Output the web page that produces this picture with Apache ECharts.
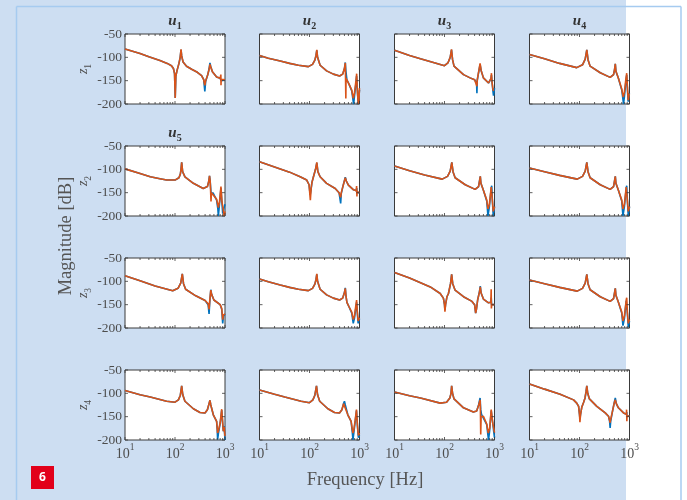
<!DOCTYPE html>
<html><head><meta charset="utf-8">
<script src="https://cdn.jsdelivr.net/npm/echarts@6/dist/echarts.min.js"></script>
<style>html,body{margin:0;padding:0;background:#fff}#c{width:687px;height:500px}</style>
</head><body><div id="c"></div>
<script>
// ---------- data ----------
const inputNames = ['1','2','3','4'];
const outputNames = ['1','2','3','4'];
const yTicks = [-50,-100,-150,-200];
const xMajorTicks = [10,100,1000];
const xMinorTicks = [20,30,40,50,60,70,80,90,200,300,400,500,600,700,800,900];

const z1u1_b = [[10,-82],[20,-92],[30,-99],[50,-107],[70,-113],[85,-118],[93,-124],[98,-135],[101,-187],[104,-140],[110,-128],[120,-113],[127,-100],[132,-84],[136,-97],[145,-110],[170,-119],[220,-126],[280,-132],[340,-139],[375,-148],[395,-173],[410,-152],[450,-138],[480,-125],[500,-112],[520,-120],[560,-131],[680,-142],[800,-145],[825,-142],[835,-150],[860,-146],[1000,-148]];
const z1u1_o = [[10,-82],[20,-92],[30,-99],[50,-107],[70,-113],[85,-118],[93,-124],[98,-135],[101,-187],[104,-140],[110,-128],[120,-113],[127,-100],[132,-83],[136,-97],[145,-110],[170,-119],[220,-126],[280,-132],[340,-139],[375,-148],[395,-160],[410,-150],[450,-138],[480,-126],[500,-115],[520,-121],[560,-131],[680,-142],[800,-145],[820,-144],[826,-137],[832,-160],[840,-147],[1000,-148]];

const z1u2_b = [[10,-96],[15,-102],[26,-108],[40,-113],[60,-117],[95,-120],[115,-115],[128,-106],[135,-96],[140,-85],[145,-100],[163,-117],[220,-129],[300,-136],[400,-140],[460,-136],[500,-124],[520,-111],[535,-130],[560,-148],[620,-158],[700,-172],[750,-195],[765,-200],[790,-185],[850,-155],[875,-140],[900,-165],[940,-200],[970,-185],[1000,-170]];
const z1u2_o = [[10,-96],[15,-102],[26,-108],[40,-113],[60,-117],[95,-120],[115,-115],[128,-106],[135,-96],[140,-84],[145,-100],[163,-117],[220,-129],[300,-136],[400,-140],[460,-136],[500,-124],[520,-112],[527,-150],[533,-188],[538,-145],[560,-148],[620,-158],[700,-170],[750,-188],[790,-178],[850,-150],[878,-135],[905,-170],[945,-200],[975,-190],[1000,-166]];

const z1u3_b = [[10,-85],[20,-96],[33,-103],[60,-111],[100,-118],[117,-112],[130,-100],[138,-84],[145,-105],[155,-119],[240,-137],[325,-144],[400,-148],[438,-155],[445,-177],[452,-150],[480,-133],[515,-115],[540,-128],[600,-144],[760,-155],[850,-146],[870,-138],[890,-152],[930,-172],[955,-182],[1000,-166]];
const z1u3_o = [[10,-85],[20,-96],[33,-103],[60,-111],[100,-118],[117,-112],[130,-100],[138,-83],[145,-105],[155,-119],[240,-137],[325,-144],[400,-148],[438,-152],[445,-162],[452,-148],[480,-132],[515,-113],[540,-128],[600,-144],[760,-155],[850,-145],[870,-134],[890,-152],[930,-168],[960,-172],[1000,-166]];

const z1u4_b = [[10,-94],[20,-103],[40,-113],[88,-122],[115,-116],[130,-104],[140,-84],[148,-105],[163,-119],[260,-133],[410,-143],[480,-137],[505,-125],[520,-114],[535,-130],[600,-145],[700,-170],[740,-190],[760,-200],[790,-185],[850,-150],[880,-138],[910,-170],[940,-195],[970,-180],[1000,-177]];
const z1u4_o = [[10,-94],[20,-103],[40,-113],[88,-122],[115,-116],[130,-104],[140,-84],[148,-105],[163,-119],[260,-133],[410,-143],[480,-137],[505,-125],[520,-114],[535,-130],[600,-145],[700,-168],[750,-185],[790,-175],[850,-145],[880,-134],[910,-165],[945,-192],[975,-180],[1000,-178]];

const z2u1_b = [[10,-99],[20,-109],[32,-116],[50,-120],[68,-123],[100,-123],[120,-118],[128,-110],[132,-100],[136,-85],[142,-105],[158,-116],[233,-130],[367,-141],[445,-137],[475,-125],[490,-114],[505,-125],[525,-150],[580,-151],[680,-166],[720,-185],[736,-200],[760,-185],[800,-160],[830,-140],[860,-165],[900,-195],[940,-185],[1000,-175]];
const z2u1_o = [[10,-99],[20,-109],[32,-116],[50,-120],[68,-123],[100,-123],[120,-118],[128,-110],[132,-100],[136,-85],[142,-105],[158,-116],[233,-130],[367,-141],[445,-137],[475,-125],[490,-114],[505,-125],[515,-145],[525,-169],[535,-150],[580,-151],[680,-164],[736,-182],[780,-168],[830,-137],[870,-170],[920,-185],[960,-200],[1000,-190]];

const z2u2_b = [[10,-84],[20,-95],[40,-106],[65,-116],[88,-123],[98,-133],[103,-155],[107,-145],[112,-128],[120,-116],[132,-100],[140,-86],[147,-105],[163,-116],[220,-130],[327,-141],[390,-150],[420,-173],[432,-152],[470,-135],[520,-117],[545,-125],[600,-134],[760,-144],[860,-146],[880,-140],[895,-150],[1000,-150]];
const z2u2_o = [[10,-84],[20,-95],[40,-106],[65,-116],[88,-123],[98,-133],[104,-166],[108,-140],[112,-128],[120,-116],[132,-100],[140,-85],[147,-105],[163,-116],[220,-130],[327,-141],[390,-150],[420,-160],[432,-150],[470,-135],[520,-118],[545,-125],[600,-134],[760,-144],[860,-146],[875,-136],[888,-158],[900,-148],[1000,-150]];

const z2u3_b = [[10,-93],[20,-103],[40,-112],[90,-121],[115,-115],[130,-104],[140,-85],[148,-105],[163,-118],[260,-133],[410,-143],[480,-137],[520,-115],[535,-130],[600,-145],[700,-168],[740,-200],[790,-180],[860,-140],[880,-135],[910,-170],[945,-200],[1000,-180]];
const z2u3_o = [[10,-93],[20,-103],[40,-112],[90,-121],[115,-115],[130,-104],[140,-85],[148,-105],[163,-118],[260,-133],[410,-143],[480,-137],[520,-115],[535,-130],[600,-145],[700,-166],[740,-185],[790,-175],[860,-138],[880,-134],[910,-168],[945,-190],[1000,-180]];

const z2u4_b = [[10,-97],[20,-105],[40,-113],[90,-121],[115,-115],[130,-104],[140,-85],[148,-105],[163,-118],[260,-133],[410,-143],[480,-137],[520,-115],[535,-130],[600,-145],[700,-168],[740,-200],[790,-180],[860,-140],[880,-135],[910,-170],[945,-200],[1000,-180]];
const z2u4_o = [[10,-97],[20,-105],[40,-113],[90,-121],[115,-115],[130,-104],[140,-85],[148,-105],[163,-118],[260,-133],[410,-143],[480,-137],[520,-115],[535,-130],[600,-145],[700,-166],[740,-185],[790,-175],[860,-138],[880,-134],[910,-168],[945,-190],[1000,-180]];

const z3u1_b = [[10,-88],[20,-99],[40,-110],[90,-120],[115,-115],[130,-104],[140,-84],[148,-105],[163,-117],[260,-131],[400,-141],[460,-150],[480,-170],[495,-145],[520,-118],[540,-128],[600,-140],[800,-150],[860,-160],[900,-190],[930,-175],[1000,-170]];
const z3u1_o = [[10,-88],[20,-99],[40,-110],[90,-120],[115,-115],[130,-104],[140,-84],[148,-105],[163,-117],[260,-131],[400,-141],[460,-148],[480,-160],[495,-142],[520,-119],[540,-128],[600,-140],[800,-150],[860,-158],[900,-182],[930,-172],[1000,-170]];

const z3u2_b = [[10,-95],[15,-101],[26,-108],[40,-113],[60,-117],[95,-120],[115,-115],[128,-106],[135,-96],[140,-85],[145,-100],[163,-117],[220,-129],[300,-136],[400,-140],[460,-136],[500,-124],[520,-114],[535,-130],[560,-145],[620,-155],[700,-168],[750,-190],[790,-180],[850,-155],[875,-145],[900,-165],[940,-190],[1000,-180]];
const z3u2_o = [[10,-95],[15,-101],[26,-108],[40,-113],[60,-117],[95,-120],[115,-115],[128,-106],[135,-96],[140,-84],[145,-100],[163,-117],[220,-129],[300,-136],[400,-140],[460,-136],[500,-124],[520,-115],[535,-130],[560,-145],[620,-155],[700,-166],[750,-182],[790,-175],[850,-150],[875,-140],[900,-162],[940,-185],[1000,-178]];

const z3u3_b = [[10,-81],[20,-93],[52,-112],[82,-126],[95,-136],[100,-150],[102,-162],[105,-150],[112,-133],[120,-126],[132,-105],[139,-85],[146,-105],[163,-119],[240,-133],[355,-143],[400,-150],[420,-168],[435,-160],[460,-140],[500,-122],[520,-110],[540,-125],[600,-138],[760,-146],[840,-145],[860,-135],[875,-150],[900,-150],[1000,-150]];
const z3u3_o = [[10,-81],[20,-93],[52,-112],[82,-126],[95,-136],[100,-150],[102,-165],[105,-150],[112,-133],[120,-126],[132,-105],[139,-85],[146,-105],[163,-119],[240,-133],[355,-143],[400,-150],[420,-168],[435,-160],[460,-140],[500,-123],[520,-112],[540,-125],[600,-138],[760,-146],[845,-145],[858,-117],[866,-158],[880,-150],[1000,-150]];

const z3u4_b = [[10,-97],[20,-105],[40,-113],[90,-121],[115,-115],[130,-104],[140,-85],[148,-105],[163,-118],[260,-133],[410,-143],[480,-137],[520,-115],[535,-130],[600,-145],[700,-168],[740,-195],[790,-180],[860,-142],[880,-138],[910,-170],[945,-198],[1000,-185]];
const z3u4_o = [[10,-97],[20,-105],[40,-113],[90,-121],[115,-115],[130,-104],[140,-85],[148,-105],[163,-118],[260,-133],[410,-143],[480,-137],[520,-115],[535,-130],[600,-145],[700,-166],[740,-185],[790,-175],[860,-140],[880,-135],[910,-168],[945,-190],[1000,-182]];

const z4u1_b = [[10,-94],[20,-103],[32,-108],[68,-117],[100,-119],[117,-114],[128,-104],[136,-84],[143,-103],[158,-117],[233,-133],[316,-141],[398,-142],[445,-135],[480,-122],[500,-115],[520,-125],[584,-146],[680,-160],[700,-180],[712,-199],[740,-185],[800,-165],[860,-136],[900,-165],[925,-181],[960,-170],[1000,-200]];
const z4u1_o = [[10,-94],[20,-103],[32,-108],[68,-117],[100,-119],[117,-114],[128,-104],[136,-84],[143,-103],[158,-117],[233,-133],[316,-141],[398,-142],[445,-135],[480,-122],[500,-115],[520,-125],[584,-146],[680,-160],[700,-175],[712,-185],[740,-180],[800,-163],[860,-134],[900,-165],[925,-181],[960,-172],[1000,-192]];

const z4u2_b = [[10,-93],[20,-102],[32,-108],[68,-117],[100,-120],[117,-114],[128,-104],[138,-84],[145,-103],[160,-117],[233,-133],[316,-141],[398,-142],[445,-135],[480,-122],[500,-117],[520,-125],[584,-146],[680,-160],[720,-185],[740,-200],[770,-185],[820,-160],[870,-137],[910,-170],[950,-195],[1000,-190]];
const z4u2_o = [[10,-93],[20,-102],[32,-108],[68,-117],[100,-120],[117,-114],[128,-104],[138,-84],[145,-103],[160,-117],[233,-133],[316,-141],[398,-142],[445,-135],[480,-122],[500,-118],[520,-125],[584,-146],[680,-160],[720,-178],[740,-185],[770,-178],[820,-158],[870,-135],[910,-168],[950,-190],[1000,-185]];

const z4u3_b = [[10,-97],[20,-105],[33,-110],[82,-121],[110,-119],[128,-110],[135,-100],[139,-84],[145,-100],[155,-112],[240,-131],[378,-140],[440,-138],[480,-125],[515,-110],[530,-135],[550,-145],[600,-149],[700,-167],[740,-190],[760,-200],[800,-180],[860,-137],[920,-163],[960,-180],[1000,-195]];
const z4u3_o = [[10,-97],[20,-105],[33,-110],[82,-121],[110,-119],[128,-110],[135,-100],[139,-84],[145,-100],[155,-112],[240,-131],[378,-140],[440,-138],[480,-126],[515,-114],[522,-130],[530,-188],[540,-150],[600,-149],[700,-166],[750,-185],[800,-175],[860,-135],[920,-163],[1000,-184]];

const z4u4_b = [[10,-80],[20,-91],[41,-102],[76,-114],[88,-121],[96,-128],[100,-145],[102,-155],[105,-145],[111,-130],[120,-120],[129,-110],[135,-97],[140,-84],[146,-100],[158,-112],[222,-128],[327,-142],[380,-149],[400,-160],[410,-174],[420,-160],[464,-135],[500,-118],[520,-110],[545,-122],[600,-131],[760,-142],[870,-145],[880,-140],[890,-148],[1000,-149]];
const z4u4_o = [[10,-80],[20,-91],[41,-102],[76,-114],[88,-121],[96,-128],[100,-145],[102,-162],[105,-145],[111,-130],[120,-120],[129,-110],[135,-97],[140,-84],[146,-100],[158,-112],[222,-128],[327,-142],[380,-149],[400,-158],[410,-163],[420,-156],[464,-135],[500,-119],[520,-114],[545,-122],[600,-131],[760,-142],[865,-145],[875,-135],[885,-160],[895,-148],[1000,-149]];

const blueData = [
  [z1u1_b, z1u2_b, z1u3_b, z1u4_b],
  [z2u1_b, z2u2_b, z2u3_b, z2u4_b],
  [z3u1_b, z3u2_b, z3u3_b, z3u4_b],
  [z4u1_b, z4u2_b, z4u3_b, z4u4_b]
];
const orangeData = [
  [z1u1_o, z1u2_o, z1u3_o, z1u4_o],
  [z2u1_o, z2u2_o, z2u3_o, z2u4_o],
  [z3u1_o, z3u2_o, z3u3_o, z3u4_o],
  [z4u1_o, z4u2_o, z4u3_o, z4u4_o]
];

// ---------- layout / style ----------
const colLeft = [125, 259.5, 394.5, 529.5];
const rowTop = [34, 146, 258, 370];
const W = 100, H = 70;
const SERIF = 'Liberation Serif';
const LABEL_C = '#4d4d4d';
const BLUE = '#0072BD', ORANGE = '#D95319';

const tickData = []
  .concat(xMinorTicks.map(f => [f, -125, 0]))
  .concat(xMajorTicks.map(f => [f, -125, 1]))
  .concat(yTicks.map(y => [100, y, 2]));

function renderTick(params, api) {
  const kind = api.value(2);
  const st = { stroke: '#3a3a3a', lineWidth: 0.8 };
  if (kind === 2) {
    const y = api.value(1);
    const pL = api.coord([10, y]), pR = api.coord([1000, y]);
    return { type: 'group', children: [
      { type: 'line', shape: { x1: pL[0], y1: pL[1], x2: pL[0] + 3, y2: pL[1] }, style: st },
      { type: 'line', shape: { x1: pR[0] - 3, y1: pR[1], x2: pR[0], y2: pR[1] }, style: st }
    ]};
  }
  const f = api.value(0);
  const len = kind === 1 ? 3 : 2;
  const pB = api.coord([f, -200]), pT = api.coord([f, -50]);
  return { type: 'group', children: [
    { type: 'line', shape: { x1: pB[0], y1: pB[1], x2: pB[0], y2: pB[1] - len }, style: st },
    { type: 'line', shape: { x1: pT[0], y1: pT[1], x2: pT[0], y2: pT[1] + len }, style: st }
  ]};
}

const grid = [], xAxis = [], yAxis = [], series = [];
for (let r = 0; r < 4; r++) {
  for (let c = 0; c < 4; c++) {
    const i = r * 4 + c;
    grid.push({ left: colLeft[c], top: rowTop[r], width: W, height: H, show: true,
      backgroundColor: '#ffffff', borderColor: '#3a3a3a', borderWidth: 1 });
    xAxis.push({ gridIndex: i, type: 'log', logBase: 10, min: 10, max: 1000,
      axisLine: { show: false }, axisTick: { show: false }, splitLine: { show: false },
      axisLabel: { show: r === 3, margin: 2, color: LABEL_C, fontFamily: SERIF,
        formatter: v => '{b|10}{s|' + Math.round(Math.log10(v)) + '}',
        rich: { b: { fontSize: 14, fontFamily: SERIF, color: LABEL_C, verticalAlign: 'bottom', lineHeight: 19 },
                s: { fontSize: 9.5, fontFamily: SERIF, color: LABEL_C, verticalAlign: 'top' } } } });
    yAxis.push({ gridIndex: i, type: 'value', min: -200, max: -50, interval: 50,
      axisLine: { show: false }, axisTick: { show: false }, splitLine: { show: false },
      axisLabel: { show: c === 0, margin: 3, fontSize: 13.5, fontFamily: SERIF, color: LABEL_C },
      name: c === 0 ? '{m|z}{s|' + outputNames[r] + '}' : '',
      nameLocation: 'middle', nameRotate: 90, nameGap: 29,
      nameTextStyle: { rich: {
        m: { fontSize: 14, fontStyle: 'italic', fontFamily: SERIF, color: LABEL_C, verticalAlign: 'top', lineHeight: 17 },
        s: { fontSize: 9.5, fontFamily: SERIF, color: LABEL_C, verticalAlign: 'bottom' } } } });
    series.push({ type: 'line', xAxisIndex: i, yAxisIndex: i, data: blueData[r][c],
      symbol: 'none', lineStyle: { color: BLUE, width: 1.6 }, z: 3, animation: false });
    series.push({ type: 'line', xAxisIndex: i, yAxisIndex: i, data: orangeData[r][c],
      symbol: 'none', lineStyle: { color: ORANGE, width: 1.6 }, z: 4, animation: false });
    series.push({ type: 'custom', xAxisIndex: i, yAxisIndex: i, data: tickData,
      encode: { x: 0, y: 1 }, renderItem: renderTick, z: 5, silent: true, animation: false });
  }
}

const titleRich = {
  m: { fontSize: 15, fontStyle: 'italic', fontWeight: 'bold', fontFamily: SERIF, color: '#333', verticalAlign: 'top', lineHeight: 17 },
  s: { fontSize: 10, fontFamily: SERIF, color: '#333', verticalAlign: 'bottom' }
};
const title = [];
for (let c = 0; c < 4; c++) {
  title.push({ text: '{m|u}{s|' + inputNames[c] + '}', left: colLeft[c] + W / 2, top: 14, textAlign: 'center', padding: 0,
    textStyle: { rich: titleRich } });
}
title.push({ text: '{m|u}{s|5}', left: colLeft[0] + W / 2, top: 126, textAlign: 'center', padding: 0,
  textStyle: { rich: titleRich } });

const graphic = [
  { type: 'rect', z: -100, shape: { x: 0, y: 0, width: 626, height: 500 }, style: { fill: '#cddef2' } },
  { type: 'line', z: -99, shape: { x1: 16.5, y1: 6.5, x2: 16.5, y2: 500 }, style: { stroke: '#a6cbf0', lineWidth: 1.5 } },
  { type: 'line', z: -99, shape: { x1: 16.5, y1: 6.5, x2: 681, y2: 6.5 }, style: { stroke: '#a6cbf0', lineWidth: 1.5 } },
  { type: 'line', z: -99, shape: { x1: 681, y1: 6.5, x2: 681, y2: 500 }, style: { stroke: '#a6cbf0', lineWidth: 1.5 } },
  { type: 'text', x: 66, y: 236, rotation: Math.PI / 2,
    style: { text: 'Magnitude [dB]', fontSize: 18.5, fontFamily: SERIF, fill: '#555', textAlign: 'center', textVerticalAlign: 'middle' } },
  { type: 'text', x: 365, y: 480,
    style: { text: 'Frequency [Hz]', fontSize: 18.5, fontFamily: SERIF, fill: '#555', textAlign: 'center', textVerticalAlign: 'middle' } },
  { type: 'rect', shape: { x: 31, y: 466, width: 23, height: 23 }, style: { fill: '#e2001a' } },
  { type: 'text', x: 42.5, y: 478, style: { text: '6', fontSize: 12, fontWeight: 'bold', fontFamily: 'Open Sans', fill: '#fff', textAlign: 'center', textVerticalAlign: 'middle' } }
];

const chart = echarts.init(document.getElementById('c'), null, { renderer: 'canvas' });
chart.setOption({ backgroundColor: '#ffffff', animation: false, title, grid, xAxis, yAxis, series, graphic });
</script></body></html>
